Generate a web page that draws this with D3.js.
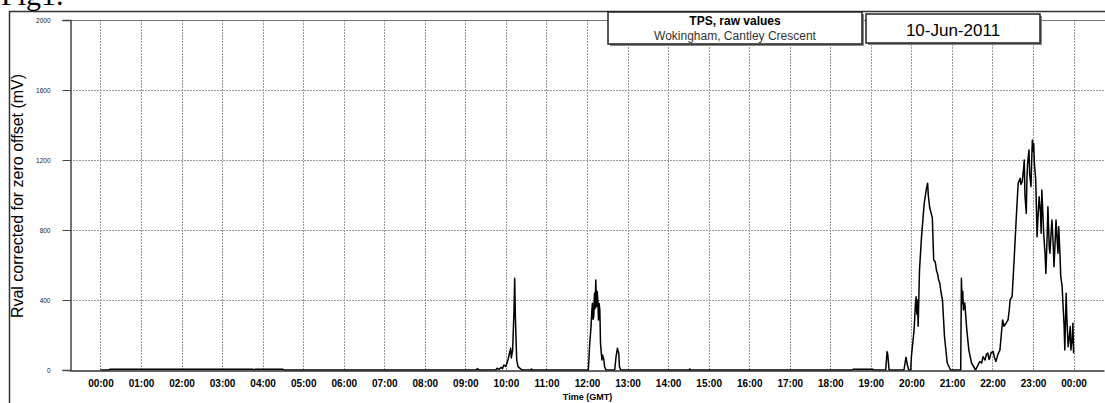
<!DOCTYPE html>
<html>
<head>
<meta charset="utf-8">
<script src="https://cdn.jsdelivr.net/npm/d3@7"></script>
<style>
body{margin:0;background:#fff;}
svg{display:block;font-family:Arial,"Liberation Sans",sans-serif;}
</style>
</head>
<body>
<div id="canvas"></div>
<script>
// readings, time of day (GMT) and value in mV
var times = ['00:00','00:13','00:14','01:30','02:40','03:45','03:47','03:49','04:30','04:31',
  '09:16','09:18','09:20','09:45','09:47','09:50','09:53','09:55','09:57','10:00',
  '10:03','10:05','10:07','10:08','10:10','10:12','10:13','10:14','10:16','10:18',
  '10:22','10:25','10:37','10:38','10:39','12:02','12:04','12:06','12:07','12:08',
  '12:09','12:10','12:11','12:12','12:13','12:14','12:15','12:16','12:17','12:18',
  '12:19','12:20','12:22','12:23','12:25','12:26','12:28','12:41','12:43','12:45',
  '12:47','12:48','12:50','14:31','14:32','14:33','18:33','18:34','18:50','19:03',
  '19:04','19:22','19:24','19:25','19:27','19:49','19:52','19:54','19:56','19:59',
  '20:00','20:02','20:04','20:06','20:07','20:08','20:09','20:10','20:12','20:15',
  '20:19','20:22','20:23','20:24','20:25','20:27','20:28','20:31','20:33','20:35',
  '20:36','20:37','20:39','20:40','20:42','20:44','20:46','20:49','20:53','20:58',
  '21:13','21:14','21:15','21:16','21:17','21:19','21:22','21:25','21:29','21:35',
  '21:41','21:44','21:46','21:49','21:51','21:53','21:55','21:56','21:58','22:01',
  '22:03','22:05','22:08','22:11','22:13','22:15','22:17','22:20','22:23','22:25',
  '22:26','22:29','22:32','22:35','22:38','22:41','22:42','22:44','22:46','22:47',
  '22:48','22:50','22:51','22:52','22:54','22:55','22:57','22:58','22:59','23:00',
  '23:01','23:02','23:04','23:06','23:07','23:09','23:11','23:12','23:13','23:15',
  '23:16','23:18','23:19','23:21','23:22','23:24','23:25','23:27','23:28','23:30',
  '23:31','23:33','23:34','23:36','23:37','23:38','23:40','23:41','23:43','23:44',
  '23:46','23:47','23:49','23:50','23:52','23:54','23:55','23:56','23:58','23:59',
  '24:00'];
var values = [0,0,5,5,4,5,1,5,5,0,
  0,8,0,0,10,4,15,8,28,20,
  57,90,124,69,114,343,524,305,57,19,
  5,0,0,6,0,0,150,248,330,381,
  290,305,438,350,514,362,450,400,286,380,
  343,152,57,86,57,19,0,0,76,124,
  95,19,0,0,6,0,0,5,4,5,
  0,0,105,90,0,0,73,30,0,0,
  76,152,229,380,419,320,400,250,571,762,
  954,1030,1050,1067,1000,930,914,869,629,620,
  600,571,545,520,497,440,400,190,40,0,
  0,524,380,450,343,383,229,114,40,0,
  48,40,76,57,90,97,60,69,100,105,
  70,48,90,114,200,286,250,267,286,350,
  400,419,629,857,1067,1095,1060,1076,1150,1200,
  1000,895,1100,1181,1257,1120,1048,1200,1314,1250,
  1295,1180,1086,762,850,990,900,781,1029,850,
  762,650,552,780,933,700,667,800,857,700,
  590,760,857,720,667,819,650,533,480,400,
  250,114,438,300,133,200,248,114,180,267,
  95];

var yTicks = [0,400,800,1200,1600,2000];
var yTitle = 'Rval corrected for zero offset (mV)',
    xTitle = 'Time (GMT)',
    boxTitle = 'TPS, raw values',
    boxSite = 'Wokingham, Cantley Crescent',
    dateLabel = '10-Jun-2011',
    figLabel = 'Fig1.';

var W = 1105, H = 403;
var m = {t:20,r:1,b:33,l:70};

var svg = d3.select('#canvas')
    .append('svg')
    .attr('width', W)
    .attr('height', H);

function toDate(s){
    var p = s.split(':');
    return new Date(2011, 5, 10, +p[0], +p[1]);
}
var data = times.map(function(t,i){ return {t: toDate(t), v: values[i]}; });

var day0 = new Date(2011, 5, 10, 0, 0);
var x = d3.scaleTime()
    .domain([d3.timeMinute.offset(day0, -45), d3.timeMinute.offset(day0, 24*60+45)])
    .range([m.l, W - m.r]);
var y = d3.scaleLinear().domain([0,2000]).range([H - m.b, m.t]);

var hours = d3.timeHour.range(day0, d3.timeHour.offset(day0, 25));

//outer frame
svg.append('path')
    .attr('d', 'M9.5,' + H + 'V11.5H' + W)
    .style('fill','none').style('stroke','#333').style('stroke-width',1.5);

//fig label, cut at the top as in the source page
svg.append('text')
    .attr('x', 1).attr('y', 5)
    .style('font-family','"Liberation Serif","Times New Roman",serif')
    .style('font-size','30px')
    .text(figLabel);

//grid
var grid = svg.append('g').attr('class','grid');
grid.selectAll('.vgrid')
    .data(hours)
    .enter()
    .append('line').attr('class','vgrid')
    .attr('x1',function(d){return Math.round(x(d))+0.5})
    .attr('x2',function(d){return Math.round(x(d))+0.5})
    .attr('y1', y(2000))
    .attr('y2', y(0))
    .style('stroke','#999').style('stroke-dasharray','2,1');
grid.selectAll('.hgrid')
    .data(yTicks.filter(function(d){return d > 0 && d < 2000;}))
    .enter()
    .append('line').attr('class','hgrid')
    .attr('x1', m.l)
    .attr('x2', W)
    .attr('y1',function(d){return Math.round(y(d))+0.5})
    .attr('y2',function(d){return Math.round(y(d))+0.5})
    .style('stroke','#999').style('stroke-dasharray','2,1');

//top border of plot
svg.append('line')
    .attr('x1', m.l).attr('x2', W)
    .attr('y1', y(2000)+0.5).attr('y2', y(2000)+0.5)
    .style('stroke','#777');

//series
var line = d3.line()
    .x(function(d){return x(d.t)})
    .y(function(d){return y(d.v)});
svg.append('path')
    .datum(data)
    .attr('d', line)
    .style('fill','none')
    .style('stroke','#000')
    .style('stroke-width',1.5)
    .style('stroke-linejoin','round');

//y axis
var yAxis = svg.append('g')
    .attr('transform','translate(' + (m.l+0.5) + ',0)')
    .call(d3.axisLeft(y).tickValues(yTicks).tickSize(8).tickPadding(12).tickFormat(d3.format('d')));
yAxis.select('.domain').style('stroke','#444').style('stroke-width',1.5);
yAxis.selectAll('.tick line').style('stroke','#444');
yAxis.selectAll('.tick text').style('font-size','6.5px').style('fill','#222');

//x axis
var xAxis = svg.append('g')
    .attr('transform','translate(0,' + (y(0)+0.5) + ')')
    .call(d3.axisBottom(x).tickValues(hours).tickSize(0).tickPadding(9).tickFormat(d3.timeFormat('%H:%M')));
xAxis.select('.domain').style('stroke','#333').style('stroke-width',1.5);
xAxis.selectAll('.tick text').style('font-size','10px').style('font-weight','bold').style('fill','#000');

//axis titles
svg.append('text')
    .attr('transform','translate(23,' + 196 + ') rotate(-90)')
    .attr('text-anchor','middle')
    .style('font-size','16px')
    .text(yTitle);
svg.append('text')
    .attr('x', (m.l + W)/2).attr('y', 400)
    .attr('text-anchor','middle')
    .style('font-size','9px').style('font-weight','bold')
    .text(xTitle);

//header boxes
function box(x0, y0, w, h){
    svg.append('rect')
        .attr('x', x0+2).attr('y', y0+2).attr('width', w).attr('height', h)
        .style('fill','#888');
    svg.append('rect')
        .attr('x', x0).attr('y', y0).attr('width', w).attr('height', h)
        .style('fill','#fff').style('stroke','#222').style('stroke-width',1.5);
}
box(608, 12, 254, 32);
box(866, 14, 174, 29);

svg.append('text')
    .attr('x', 735).attr('y', 25)
    .attr('text-anchor','middle')
    .style('font-size','12px').style('font-weight','bold')
    .text(boxTitle);
svg.append('text')
    .attr('x', 735).attr('y', 39.5)
    .attr('text-anchor','middle')
    .style('font-size','12px').style('fill','#333')
    .text(boxSite);
svg.append('text')
    .attr('x', 953).attr('y', 36)
    .attr('text-anchor','middle')
    .style('font-size','17px')
    .text(dateLabel);
</script>
</body>
</html>
